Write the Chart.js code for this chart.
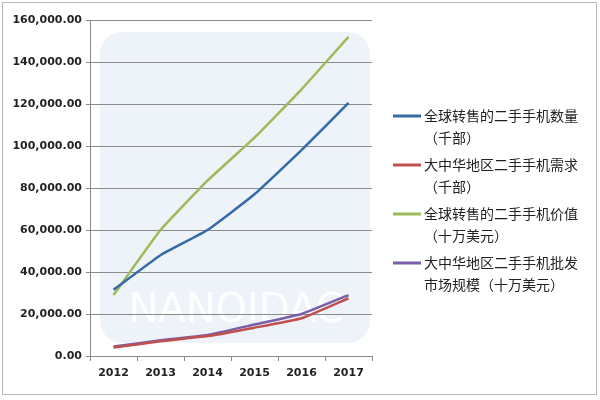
<!DOCTYPE html>
<html lang="zh">
  <head>
    <meta charset="UTF-8" />
    <title>二手手机市场</title>
    <script src="https://cdn.jsdelivr.net/npm/chart.js"></script>
    <style>
      html, body { margin: 0; padding: 0; background: #fff; }
      #wrap { width: 600px; height: 400px; }
    </style>
  </head>
  <body>
    <div id="wrap"><canvas id="myChart" width="600" height="400"></canvas></div>
    <script>
      const years = ["2012", "2013", "2014", "2015", "2016", "2017"];

      const globalResaleVolume = [31500, 48000, 60000, 77000, 98000, 120500];
      const chinaDemand = [4000, 7000, 9500, 13500, 18000, 27500];
      const globalResaleValue = [29000, 60000, 83500, 104000, 127000, 152000];
      const chinaWholesale = [4500, 7500, 10000, 15000, 20000, 29000];

      const seriesLabels = [
        ["全球转售的二手手机数量", "（千部）"],
        ["大中华地区二手手机需求", "（千部）"],
        ["全球转售的二手手机价值", "（十万美元）"],
        ["大中华地区二手手机批发", "市场规模（十万美元）"],
      ];
      const seriesColors = ["#356ba6", "#c0504d", "#9bbb59", "#7b5ea8"];

      const yMax = 160000;
      const yStep = 20000;

      // frame + faint watermark box behind the plot
      const backdrop = {
        id: "backdrop",
        beforeDraw(chart) {
          const c = chart.ctx;
          c.save();
          c.fillStyle = "#fff";
          c.fillRect(0, 0, 600, 400);
          c.strokeStyle = "#b8b8b8";
          c.lineWidth = 1;
          c.strokeRect(2.5, 2.5, 594, 392);
          c.fillStyle = "rgba(205,222,238,0.35)";
          c.beginPath();
          c.roundRect(100, 32, 270, 311, 22);
          c.fill();
          c.fillStyle = "rgba(255,255,255,0.85)";
          c.font = "40px 'DejaVu Sans'";
          c.textAlign = "center";
          c.fillText("NANOIDAC", 236, 322);
          c.restore();
        },
      };

      const sideLegend = {
        id: "sideLegend",
        afterDraw(chart) {
          const c = chart.ctx;
          c.save();
          c.font = "14px 'Noto Sans CJK SC'";
          c.fillStyle = "#222";
          c.textBaseline = "middle";
          let y = 116;
          chart.data.datasets.forEach((ds) => {
            c.strokeStyle = ds.borderColor;
            c.lineWidth = 3;
            c.beginPath();
            c.moveTo(393, y);
            c.lineTo(421, y);
            c.stroke();
            ds.label.forEach((line) => {
              c.fillText(line, 424, y);
              y += 21.5;
            });
            y += 6;
          });
          c.restore();
        },
      };

      const ctx = document.getElementById("myChart");
      const values = [globalResaleVolume, chinaDemand, globalResaleValue, chinaWholesale];

      new Chart(ctx, {
        type: "line",
        data: {
          labels: years,
          datasets: values.map((v, i) => ({
            label: seriesLabels[i],
            data: v,
            borderColor: seriesColors[i],
            backgroundColor: seriesColors[i],
            borderWidth: 2.5,
            pointRadius: 0,
            tension: 0.12,
            fill: false,
          })),
        },
        options: {
          responsive: false,
          animation: false,
          layout: { padding: { top: 20, right: 228, bottom: 0, left: 0 } },
          plugins: {
            legend: { display: false },
            tooltip: { enabled: false },
          },
          scales: {
            x: {
              offset: true,
              afterFit: (scale) => { scale.height = 44; },
              grid: {
                offset: true,
                drawOnChartArea: false,
                color: "#888",
                tickLength: 5,
              },
              border: { color: "#888" },
              ticks: {
                color: "#222",
                font: { family: "DejaVu Sans", size: 11, weight: "bold" },
                padding: 6,
              },
            },
            y: {
              min: 0,
              max: yMax,
              afterFit: (scale) => { scale.width = 90; },
              grid: { color: "#8a8a8a", tickLength: 4 },
              border: { color: "#888" },
              ticks: {
                stepSize: yStep,
                color: "#222",
                font: { family: "DejaVu Sans", size: 11, weight: "bold" },
                padding: 4,
                callback: (value) =>
                  value.toLocaleString("en-US", { minimumFractionDigits: 2, maximumFractionDigits: 2 }),
              },
            },
          },
        },
        plugins: [backdrop, sideLegend],
      });
    </script>
  </body>
</html>
